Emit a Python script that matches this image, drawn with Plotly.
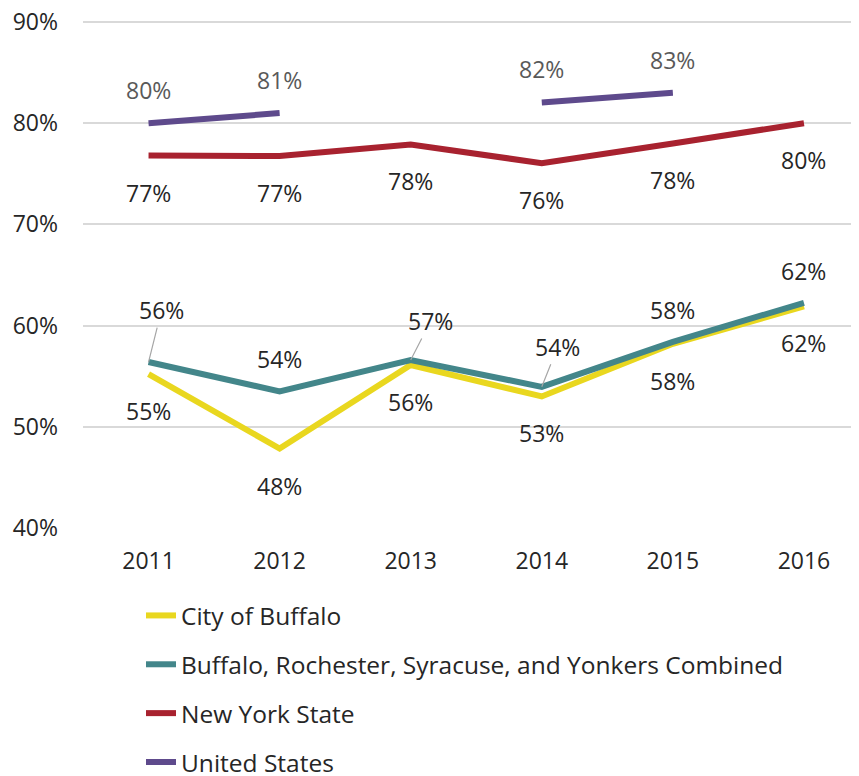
import plotly.graph_objects as go

# ---------------- data ----------------
years = ["2011", "2012", "2013", "2014", "2015", "2016"]

buffalo = [55.2, 47.85, 56.1, 53.0, 58.2, 61.9]
combined = [56.4, 53.5, 56.6, 53.95, 58.4, 62.25]
nys = [76.8, 76.75, 77.9, 76.05, 78.0, 80.0]
us = [80.0, 81.0, None, 82.05, 83.0, None]

buffalo_labels = ["55%", "48%", "56%", "53%", "58%", "62%"]
combined_labels = ["56%", "54%", "57%", "54%", "58%", "62%"]
nys_labels = ["77%", "77%", "78%", "76%", "78%", "80%"]
us_labels = ["80%", "81%", None, "82%", "83%", None]

names = ["City of Buffalo",
         "Buffalo, Rochester, Syracuse, and Yonkers Combined",
         "New York State",
         "United States"]

y_ticks = [40, 50, 60, 70, 80, 90]
y_tick_text = ["40%", "50%", "60%", "70%", "80%", "90%"]

# ---------------- styles ----------------
colors = ["#E9D71F", "#43868A", "#A8222F", "#5E4A8C"]
FONT = "Open Sans"
TXT = "#262626"
GRAY_TXT = "#595959"
FS = 23
W, H = 851, 800   # page adds an 8px body margin; bottom part falls outside the window

fig = go.Figure()
series = [buffalo, combined, nys, us]
for i, (vals, name) in enumerate(zip(series, names)):
    fig.add_trace(go.Scatter(
        x=years, y=vals, name=name, mode="lines",
        line=dict(color=colors[i], width=6),
        connectgaps=False, legendgroup=str(i), hoverinfo="skip"))

annotations = []

def add_labels(vals, labels, shift, color, leaders=None):
    leaders = leaders or {}
    for j, (v, t) in enumerate(zip(vals, labels)):
        if v is None or t is None:
            continue
        # category axis: annotation x given as the category's serial number
        base = dict(x=j, y=v, xref="x", yref="y", text=t,
                    font=dict(family=FONT, size=FS, color=color))
        if j in leaders:
            ax, ay = leaders[j]
            base.update(showarrow=True, ax=ax, ay=ay, arrowhead=0,
                        arrowwidth=1.2, arrowcolor="#A6A6A6", standoff=0)
        else:
            base.update(showarrow=False, yshift=shift)
        annotations.append(base)

add_labels(buffalo, buffalo_labels, -37, TXT)
add_labels(combined, combined_labels, 32, TXT,
           leaders={0: (13, -52), 2: (20, -39), 3: (16, -40)})
add_labels(nys, nys_labels, -37, TXT)
add_labels(us, us_labels, 33, GRAY_TXT)

fig.update_layout(
    width=W, height=H,
    margin=dict(l=75, r=0, t=12, b=H - 12 - 508, autoexpand=False),
    paper_bgcolor="white", plot_bgcolor="white",
    font=dict(family=FONT, size=FS, color=TXT),
    showlegend=True,
    legend=dict(
        orientation="v", xref="container", yref="container",
        x=133 / W, xanchor="left", y=1 - 585 / H, yanchor="top",
        font=dict(family=FONT, size=24.5, color=TXT),
        tracegroupgap=14, bgcolor="rgba(0,0,0,0)", itemwidth=30),
    annotations=annotations,
    xaxis=dict(
        type="category", range=[-0.5, 5.42], showgrid=False,
        showline=False, zeroline=False, ticks="", ticklabelstandoff=17,
        tickangle=0,
        tickfont=dict(family=FONT, size=FS, color=TXT), fixedrange=True),
    yaxis=dict(
        range=[40, 90.2], tickvals=y_ticks, ticktext=y_tick_text,
        showgrid=True, gridcolor="#D9D9D9", gridwidth=1.5,
        zeroline=False, showline=False, ticks="", ticklabelstandoff=24,
        ticklabeloverflow="allow",
        tickfont=dict(family=FONT, size=FS, color=TXT), fixedrange=True),
)

fig.write_html("out.html")
